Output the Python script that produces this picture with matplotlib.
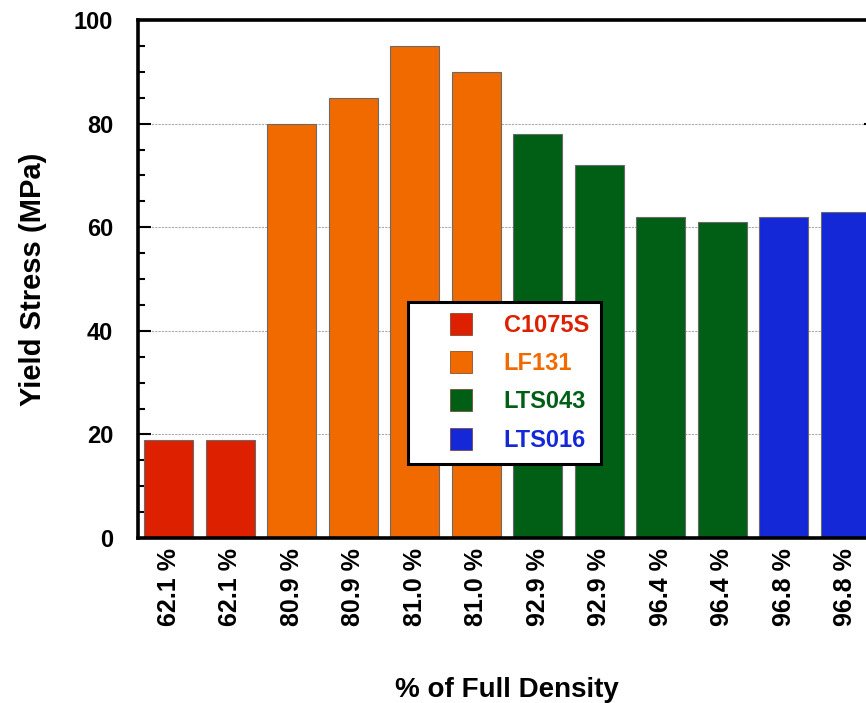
import matplotlib
matplotlib.use("Agg")
import matplotlib.pyplot as plt
from matplotlib.lines import Line2D
from matplotlib.ticker import MultipleLocator

plt.rcParams['font.family'] = ['Liberation Sans', 'DejaVu Sans']
plt.rcParams['font.weight'] = 'bold'

density_labels = ["62.1 %", "62.1 %", "80.9 %", "80.9 %", "81.0 %", "81.0 %",
                  "92.9 %", "92.9 %", "96.4 %", "96.4 %", "96.8 %", "96.8 %"]
yield_stress = [19, 19, 80, 85, 95, 90, 78, 72, 62, 61, 62, 63]
materials = ["C1075S", "C1075S", "LF131", "LF131", "LF131", "LF131",
             "LTS043", "LTS043", "LTS043", "LTS043", "LTS016", "LTS016"]
material_names = ["C1075S", "LF131", "LTS043", "LTS016"]
material_colors = {"C1075S": "#DD2000", "LF131": "#F06A00",
                   "LTS043": "#005E15", "LTS016": "#1428D8"}

W, H = 866, 703
fig = plt.figure(figsize=(W / 100, H / 100), dpi=100)
ax_l, ax_r, ax_t, ax_b = 138, 876, 20, 538
ax = fig.add_axes([ax_l / W, 1 - ax_b / H, (ax_r - ax_l) / W, (ax_b - ax_t) / H])

x = list(range(len(yield_stress)))
ax.bar(x, yield_stress, width=0.8,
       color=[material_colors[m] for m in materials],
       edgecolor="#6a6a6a", linewidth=0.8, zorder=2)

ax.set_xlim(-0.5, len(x) - 0.5)
ax.set_ylim(0, 100)
ax.yaxis.set_major_locator(MultipleLocator(20))
ax.yaxis.set_minor_locator(MultipleLocator(5))
ax.set_xticks(x)
ax.set_xticklabels(density_labels, rotation=90, fontsize=18, fontweight='bold')
ax.tick_params(axis='x', length=0, pad=7)
ax.tick_params(axis='y', which='major', direction='in', length=9, width=1.5,
               labelsize=17, pad=18, right=True)
ax.tick_params(axis='y', which='minor', direction='in', length=5, width=1.5, right=True)
for lbl in ax.get_yticklabels():
    lbl.set_fontweight('bold')

ax.yaxis.grid(True, which='major', color='#aaaaaa', linestyle=(0, (2, 1)),
              linewidth=0.8, zorder=0)
ax.set_axisbelow(True)

for s in ['left', 'bottom', 'top', 'right']:
    ax.spines[s].set_linewidth(2.6)

ax.set_ylabel("Yield Stress (MPa)", fontsize=21, fontweight='bold', labelpad=19)
ax.set_xlabel("% of Full Density", fontsize=20, fontweight='bold', labelpad=37)

handles = [Line2D([], [], linestyle='none', marker='s', markersize=16,
                  markerfacecolor=material_colors[m],
                  markeredgecolor='#7a3a20', markeredgewidth=0.5)
           for m in material_names]
leg = ax.legend(handles, material_names, loc='upper left',
                bbox_to_anchor=((408 - ax_l) / (ax_r - ax_l), (ax_b - 302) / (ax_b - ax_t)),
                fontsize=17, frameon=True, fancybox=False, framealpha=1,
                edgecolor='black', handlelength=3.5, handletextpad=0.05,
                labelspacing=0.65, borderpad=0.5, borderaxespad=0,
                labelcolor=[material_colors[m] for m in material_names],
                prop={'weight': 'bold', 'size': 17})
leg.get_frame().set_linewidth(2.2)
leg.set_zorder(5)

fig.savefig("out.png", dpi=100)
